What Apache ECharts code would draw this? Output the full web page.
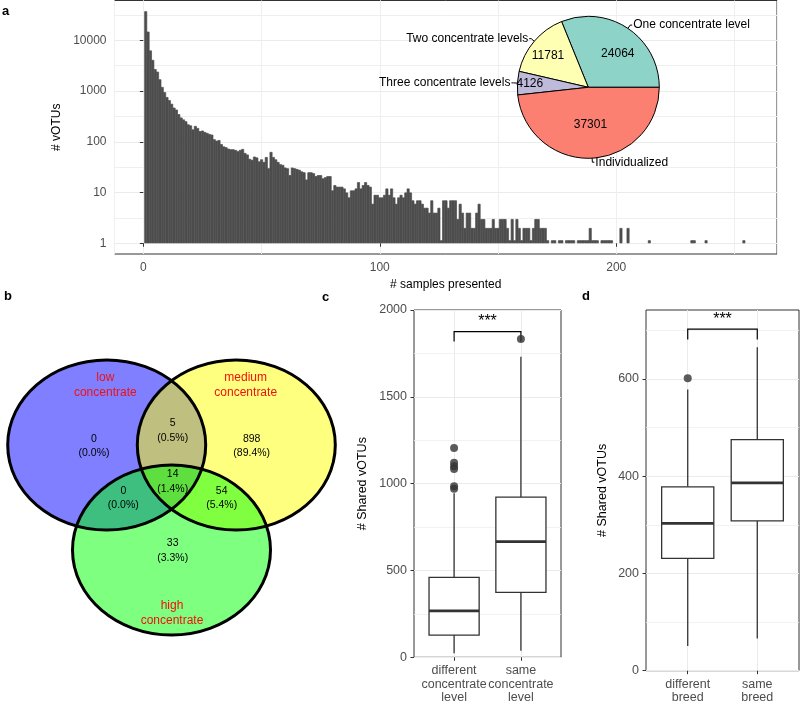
<!DOCTYPE html>
<html><head><meta charset="utf-8">
<script src="https://cdn.jsdelivr.net/npm/echarts@6/dist/echarts.min.js"></script>
<style>html,body{margin:0;padding:0;background:#fff}#main{width:800px;height:705px}</style>
</head><body><div id="main"></div>
<script>
// ---------------- DATA ----------------
// Panel a: number of vOTUs by number of samples in which they are present (bins 1..254)
const histCounts = [
  37301, 14800, 6300, 4100, 2700, 2400, 1700, 1200, 950, 760,
  660, 560, 470, 430, 350, 300, 275, 253, 220, 210,
  175, 205, 187, 162, 166, 156, 149, 142, 138, 112,
  105, 108, 90, 81, 78, 73, 71, 71, 69, 65,
  69, 72, 60, 56, 46, 44, 51, 49, 41, 45,
  40, 50, 30, 63, 50, 45, 40, 36, 35, 31,
  30, 22, 31, 30, 29, 28, 26, 25, 18, 25,
  25, 24, 21, 22, 22, 19, 20, 21, 21, 11,
  14, 13, 13, 13, 12, 10, 8, 11, 11, 12,
  16, 12, 14, 16, 14, 13, 6, 9, 9, 8,
  8, 9, 12, 9, 12, 8, 6, 8, 9, 8,
  10, 12, 10, 7, 6, 7, 7, 6, 5, 5,
  4, 7, 4, 4, 5, 1, 7, 7, 5, 7,
  7, 7, 3, 6, 4, 2, 4, 4, 2, 2,
  4, 6, 3, 3, 2, 2, 2, 3, 2, 2,
  3, 3, 3, 2, 1, 3, 1, 3, 2, 1,
  2, 2, 2, 1, 2, 3, 3, 2, 2, 2,
  1, 0, 1, 1, 0, 1, 1, 0, 1, 1,
  1, 1, 0, 1, 1, 1, 1, 1, 2, 1,
  1, 1, 0, 1, 1, 1, 1, 1, 0, 0,
  0, 2, 0, 0, 2, 0, 0, 0, 0, 0,
  0, 0, 0, 1, 0, 0, 0, 0, 0, 0,
  0, 0, 0, 0, 0, 0, 0, 0, 0, 0,
  0, 1, 1, 0, 0, 0, 0, 1, 0, 0,
  0, 0, 0, 0, 0, 0, 0, 0, 0, 0,
  0, 0, 0, 1
];
const histXTicks = [0, 100, 200];
const histYTicks = [1, 10, 100, 1000, 10000];

// Pie inset
const pieNames = ['One concentrate level', 'Two concentrate levels', 'Three concentrate levels', 'Individualized'];
const pieValues = [24064, 11781, 4126, 37301];
const pieColors = ['#8DD3C7', '#FFFFB3', '#BEBADA', '#FB8072'];

// Panel b: Venn
const vennSetLabels = ['low\nconcentrate', 'medium\nconcentrate', 'high\nconcentrate'];
const vennRegions = ['low', 'low&medium', 'medium', 'low&high', 'low&medium&high', 'medium&high', 'high'];
const vennCounts = [0, 5, 898, 0, 14, 54, 33];
const vennFills = ['rgba(0,0,255,0.5)', 'rgba(255,255,0,0.5)', 'rgba(0,255,0,0.5)'];

// Panel c
const concCats = ['different\nconcentrate\nlevel', 'same\nconcentrate\nlevel'];
// [lower whisker, Q1, median, Q3, upper whisker]
const concBoxStats = [[23, 128, 267, 460, 945], [38, 374, 666, 922, 1731]];
const concOutliers = [[1205, 1120, 1100, 1085, 985, 970], [1833]];
const concYTicks = [0, 500, 1000, 1500, 2000];

// Panel d
const breedCats = ['different\nbreed', 'same\nbreed'];
const breedBoxStats = [[51, 231, 303, 378, 578], [66, 308, 386, 475, 665]];
const breedOutliers = [[601], []];
const breedYTicks = [0, 200, 400, 600];
const signifLabel = '***';

// ---------------- LAYOUT ----------------
const L = {
  hist: { left: 114.5, top: 0.5, width: 662.5, height: 253.5, xMin: -12.2, xMax: 268, yMin: 0.615, yMax: 60800 },
  pie: { center: [588.3, 87.3], r: 71, labelOffsets: [[8, -2], [-11, -7], [-20, -1], [0, -1]] },
  venn: {
    left: 0, top: 285, width: 330, height: 420,
    ellipses: [[106.7, 160, 99, 85], [236.3, 160, 99, 85], [171.5, 265, 99, 85]],
    setLabelPos: [[105.3, 99.8], [245.7, 99.8], [172, 327.9]],
    regionPos: [[94, 161.2], [172.7, 145.5], [251.7, 161.2], [123.3, 213.3], [172.7, 196.7], [221.7, 213.3], [172.7, 265.8]]
  },
  conc: { left: 414, top: 310, width: 147, height: 347.3, yMax: 2000, bracket: [1876, 1818, 1932] },
  breed: { left: 646, top: 310, width: 153, height: 360.7, yMax: 741.5, bracket: [702, 681, 721] },
  boxWidth: 0.75
};

const FONT = 'Liberation Sans, Arial, Helvetica, sans-serif';
const GRIDC = '#EBEBEB';
const MINORC = '#EFEFEF';
const TICKC = '#333333';
const LABC = '#4D4D4D';
const BARC = '#4D4D4D';

function isInt(v) { return Math.abs(v - Math.round(v)) < 1e-9; }

// ---------------- BUILD ----------------
const histData = [];
histCounts.forEach((c, i) => { if (c > 0) histData.push([i + 1, c]); });

function boxSeries(xi, yi, stats) {
  return {
    type: 'custom', xAxisIndex: xi, yAxisIndex: yi, silent: true, z: 3,
    encode: { x: 0, y: 3 },
    data: stats.map((s, i) => [i + 1].concat(s)),
    renderItem: function (params, api) {
      const x = api.value(0);
      const lo = api.value(1), q1 = api.value(2), med = api.value(3), q3 = api.value(4), hi = api.value(5);
      const pLo = api.coord([x, lo]), pQ1 = api.coord([x, q1]), pQ3 = api.coord([x, q3]), pHi = api.coord([x, hi]);
      const pMed = api.coord([x, med]);
      const left = api.coord([x - L.boxWidth / 2, med])[0];
      const right = api.coord([x + L.boxWidth / 2, med])[0];
      const ls = { stroke: '#333333', lineWidth: 1.3 };
      return {
        type: 'group', children: [
          { type: 'line', shape: { x1: pLo[0], y1: pLo[1], x2: pQ1[0], y2: pQ1[1] }, style: ls },
          { type: 'line', shape: { x1: pQ3[0], y1: pQ3[1], x2: pHi[0], y2: pHi[1] }, style: ls },
          { type: 'rect', shape: { x: left, y: pQ3[1], width: right - left, height: pQ1[1] - pQ3[1] }, style: { fill: '#fff', stroke: '#333333', lineWidth: 1.3 } },
          { type: 'line', shape: { x1: left, y1: pMed[1], x2: right, y2: pMed[1] }, style: { stroke: '#333333', lineWidth: 2.8 } }
        ]
      };
    }
  };
}
function outlierSeries(xi, yi, outs) {
  const d = [];
  outs.forEach((arr, i) => arr.forEach(v => d.push([i + 1, v])));
  return { type: 'scatter', xAxisIndex: xi, yAxisIndex: yi, data: d, symbolSize: 8, itemStyle: { color: '#333333' }, silent: true, z: 4 };
}
function bracketSeries(xi, yi, br) {
  return {
    type: 'custom', xAxisIndex: xi, yAxisIndex: yi, silent: true, z: 4,
    data: [[1, 2, br[0], br[1], br[2]]],
    renderItem: function (params, api) {
      const a = api.coord([api.value(0), api.value(3)]);
      const b = api.coord([api.value(0), api.value(2)]);
      const c = api.coord([api.value(1), api.value(2)]);
      const d = api.coord([api.value(1), api.value(3)]);
      const t = api.coord([(api.value(0) + api.value(1)) / 2, api.value(4)]);
      return {
        type: 'group', children: [
          { type: 'polyline', shape: { points: [a, b, c, d] }, style: { stroke: '#000', lineWidth: 1.2, fill: 'none' } },
          { type: 'text', x: t[0], y: t[1], style: { text: signifLabel, fill: '#000', fontSize: 16, fontFamily: FONT, align: 'center', verticalAlign: 'middle' } }
        ]
      };
    }
  };
}

function catAxis(grid, cats) {
  return {
    gridIndex: grid, type: 'value', min: 0.4, max: 2.6, splitNumber: 2,
    axisLine: { show: false },
    axisTick: { show: true, length: 3.5, lineStyle: { color: TICKC }, customValues: [1, 2] },
    axisLabel: {
      customValues: [1, 2], color: LABC, fontSize: 12.5, fontFamily: FONT, margin: 7, lineHeight: 13.2,
      formatter: v => (isInt(v) && cats[Math.round(v) - 1]) ? cats[Math.round(v) - 1] : ''
    },
    splitLine: { show: true, lineStyle: { color: GRIDC, width: 1 } }
  };
}
function valAxis(grid, max, interval, ticks, nameGap) {
  return {
    gridIndex: grid, type: 'value', min: 0, max: max, interval: interval,
    axisLine: { show: false },
    axisTick: { show: true, length: 3.5, lineStyle: { color: TICKC }, customValues: ticks },
    axisLabel: { customValues: ticks, color: LABC, fontSize: 12.5, fontFamily: FONT, margin: 7, formatter: v => (v % interval === 0 ? String(v) : '') },
    splitLine: { show: true, lineStyle: { color: GRIDC, width: 1 } },
    minorTick: { show: false, splitNumber: 2 },
    minorSplitLine: { show: true, lineStyle: { color: MINORC, width: 0.8 } },
    name: '# Shared vOTUs', nameLocation: 'middle', nameGap: nameGap,
    nameTextStyle: { color: '#000', fontSize: 12.5, fontFamily: FONT }
  };
}

const option = {
  animation: false,
  backgroundColor: '#fff',
  textStyle: { fontFamily: FONT },
  grid: [
    { left: L.hist.left, top: L.hist.top, width: L.hist.width, height: L.hist.height, show: true, borderColor: '#333333', borderWidth: 1, backgroundColor: 'transparent', containLabel: false },
    { left: L.venn.left, top: L.venn.top, width: L.venn.width, height: L.venn.height, show: false, containLabel: false },
    { left: L.conc.left, top: L.conc.top, width: L.conc.width, height: L.conc.height, show: true, borderColor: '#333333', borderWidth: 1, backgroundColor: 'transparent', containLabel: false },
    { left: L.breed.left, top: L.breed.top, width: L.breed.width, height: L.breed.height, show: true, borderColor: '#333333', borderWidth: 1, backgroundColor: 'transparent', containLabel: false }
  ],
  xAxis: [
    {
      gridIndex: 0, type: 'value', min: L.hist.xMin, max: L.hist.xMax,
      axisLine: { show: false },
      axisTick: { show: true, length: 3.5, lineStyle: { color: TICKC }, customValues: histXTicks },
      axisLabel: { customValues: histXTicks, color: LABC, fontSize: 12, fontFamily: FONT, margin: 8, formatter: v => (v % 100 === 0 ? String(v) : '') },
      splitLine: { show: true, lineStyle: { color: GRIDC, width: 1 } },
      name: '# samples presented', nameLocation: 'middle', nameGap: 24.5,
      nameTextStyle: { color: '#000', fontSize: 12, fontFamily: FONT }
    },
    {
      gridIndex: 0, type: 'value', min: L.hist.xMin, max: L.hist.xMax, position: 'top',
      axisLine: { show: false }, axisTick: { show: false }, axisLabel: { show: false },
      splitLine: { show: true, lineStyle: { color: MINORC, width: 1 } }
    },
    { gridIndex: 1, type: 'value', min: 0, max: L.venn.width, show: false },
    catAxis(2, concCats),
    catAxis(3, breedCats)
  ],
  yAxis: [
    {
      gridIndex: 0, type: 'log', logBase: 10, min: L.hist.yMin, max: L.hist.yMax,
      axisLine: { show: false },
      axisTick: { show: true, length: 3.5, lineStyle: { color: TICKC }, customValues: histYTicks },
      axisLabel: {
        customValues: histYTicks, color: LABC, fontSize: 12, fontFamily: FONT, margin: 8,
        formatter: v => { const l = Math.log10(v); return Math.abs(l - Math.round(l)) < 1e-6 ? String(Math.round(v)) : ''; }
      },
      splitLine: { show: true, lineStyle: { color: GRIDC, width: 1 } },
      name: '# vOTUs', nameLocation: 'middle', nameGap: 52,
      nameTextStyle: { color: '#000', fontSize: 12, fontFamily: FONT }
    },
    {
      gridIndex: 0, type: 'value', position: 'right',
      min: Math.log10(L.hist.yMin), max: Math.log10(L.hist.yMax), splitNumber: 5,
      axisLine: { show: false }, axisTick: { show: false }, axisLabel: { show: false },
      splitLine: { show: false },
      minorTick: { show: false, splitNumber: 2 },
      minorSplitLine: { show: true, lineStyle: { color: MINORC, width: 1 } }
    },
    { gridIndex: 1, type: 'value', min: 0, max: L.venn.height, inverse: true, show: false },
    valAxis(2, L.conc.yMax, 500, concYTicks, 44.5),
    valAxis(3, L.breed.yMax, 200, breedYTicks, 36.5)
  ],
  series: [
    // Panel a histogram
    {
      type: 'bar', xAxisIndex: 0, yAxisIndex: 0, data: histData, barWidth: 2.9, barMinHeight: 3,
      itemStyle: { color: BARC, borderColor: BARC, borderWidth: 0.7 }, silent: true, z: 2
    },
    // Pie: slices + values inside
    {
      type: 'pie', center: L.pie.center, radius: L.pie.r, startAngle: 0, clockwise: false,
      avoidLabelOverlap: false, silent: true, z: 5,
      itemStyle: { borderColor: '#000', borderWidth: 1 },
      label: { show: true, position: 'inside', formatter: '{c}', color: '#000', fontSize: 12, fontFamily: FONT },
      labelLine: { show: false },
      data: pieValues.map((v, i) => ({
        value: v, name: pieNames[i], itemStyle: { color: pieColors[i] },
        label: { offset: L.pie.labelOffsets[i] }
      }))
    },
    // Pie: outer name labels
    {
      type: 'pie', center: L.pie.center, radius: L.pie.r, startAngle: 0, clockwise: false,
      avoidLabelOverlap: false, silent: true, z: 6,
      itemStyle: { color: 'rgba(0,0,0,0)', borderWidth: 0 },
      label: { show: true, position: 'outside', formatter: '{b}', color: '#000', fontSize: 12, fontFamily: FONT, distanceToLabelLine: 1 },
      labelLine: { show: true, length: 4, length2: 2, smooth: false, lineStyle: { color: '#000', width: 1 } },
      data: pieValues.map((v, i) => ({ value: v, name: pieNames[i] }))
    },
    // Venn fills
    {
      type: 'custom', xAxisIndex: 2, yAxisIndex: 2, silent: true, z: 2,
      data: L.venn.ellipses,
      renderItem: function (params, api) {
        const c = api.coord([api.value(0), api.value(1)]);
        const s = api.size([api.value(2), api.value(3)]);
        return { type: 'ellipse', shape: { cx: c[0], cy: c[1], rx: s[0], ry: s[1] }, style: { fill: vennFills[params.dataIndex], stroke: null, lineWidth: 0 } };
      }
    },
    // Venn outlines
    {
      type: 'custom', xAxisIndex: 2, yAxisIndex: 2, silent: true, z: 3,
      data: L.venn.ellipses,
      renderItem: function (params, api) {
        const c = api.coord([api.value(0), api.value(1)]);
        const s = api.size([api.value(2), api.value(3)]);
        return { type: 'ellipse', shape: { cx: c[0], cy: c[1], rx: s[0], ry: s[1] }, style: { fill: null, stroke: '#000', lineWidth: 3 } };
      }
    },
    // Venn set labels
    {
      type: 'custom', xAxisIndex: 2, yAxisIndex: 2, silent: true, z: 4,
      data: L.venn.setLabelPos.map((p, i) => [p[0], p[1], i]),
      renderItem: function (params, api) {
        const c = api.coord([api.value(0), api.value(1)]);
        return { type: 'text', x: c[0], y: c[1], style: { text: vennSetLabels[params.dataIndex], fill: '#F01010', fontSize: 12, fontFamily: FONT, align: 'center', verticalAlign: 'middle', lineHeight: 15 } };
      }
    },
    // Venn region counts
    {
      type: 'custom', xAxisIndex: 2, yAxisIndex: 2, silent: true, z: 4,
      data: L.venn.regionPos.map((p, i) => [p[0], p[1], vennCounts[i]]),
      renderItem: function (params, api) {
        const c = api.coord([api.value(0), api.value(1)]);
        const total = vennCounts.reduce((a, b) => a + b, 0);
        const n = api.value(2);
        const txt = n + '\n(' + (n / total * 100).toFixed(1) + '%)';
        return { type: 'text', x: c[0], y: c[1], style: { text: txt, fill: '#000', fontSize: 10.5, fontFamily: FONT, align: 'center', verticalAlign: 'middle', lineHeight: 14.5 } };
      }
    },
    // Panel c
    boxSeries(3, 3, concBoxStats),
    outlierSeries(3, 3, concOutliers),
    bracketSeries(3, 3, L.conc.bracket),
    // Panel d
    boxSeries(4, 4, breedBoxStats),
    outlierSeries(4, 4, breedOutliers),
    bracketSeries(4, 4, L.breed.bracket)
  ],
  graphic: [
    { type: 'text', left: 2, top: 5, style: { text: 'a', fill: '#000', font: 'bold 13px ' + FONT } },
    { type: 'text', left: 4, top: 290, style: { text: 'b', fill: '#000', font: 'bold 13px ' + FONT } },
    { type: 'text', left: 322, top: 291, style: { text: 'c', fill: '#000', font: 'bold 13px ' + FONT } },
    { type: 'text', left: 582, top: 290, style: { text: 'd', fill: '#000', font: 'bold 13px ' + FONT } }
  ]
};

const chart = echarts.init(document.getElementById('main'), null, { renderer: 'canvas' });
chart.setOption(option);
</script>
</body></html>
